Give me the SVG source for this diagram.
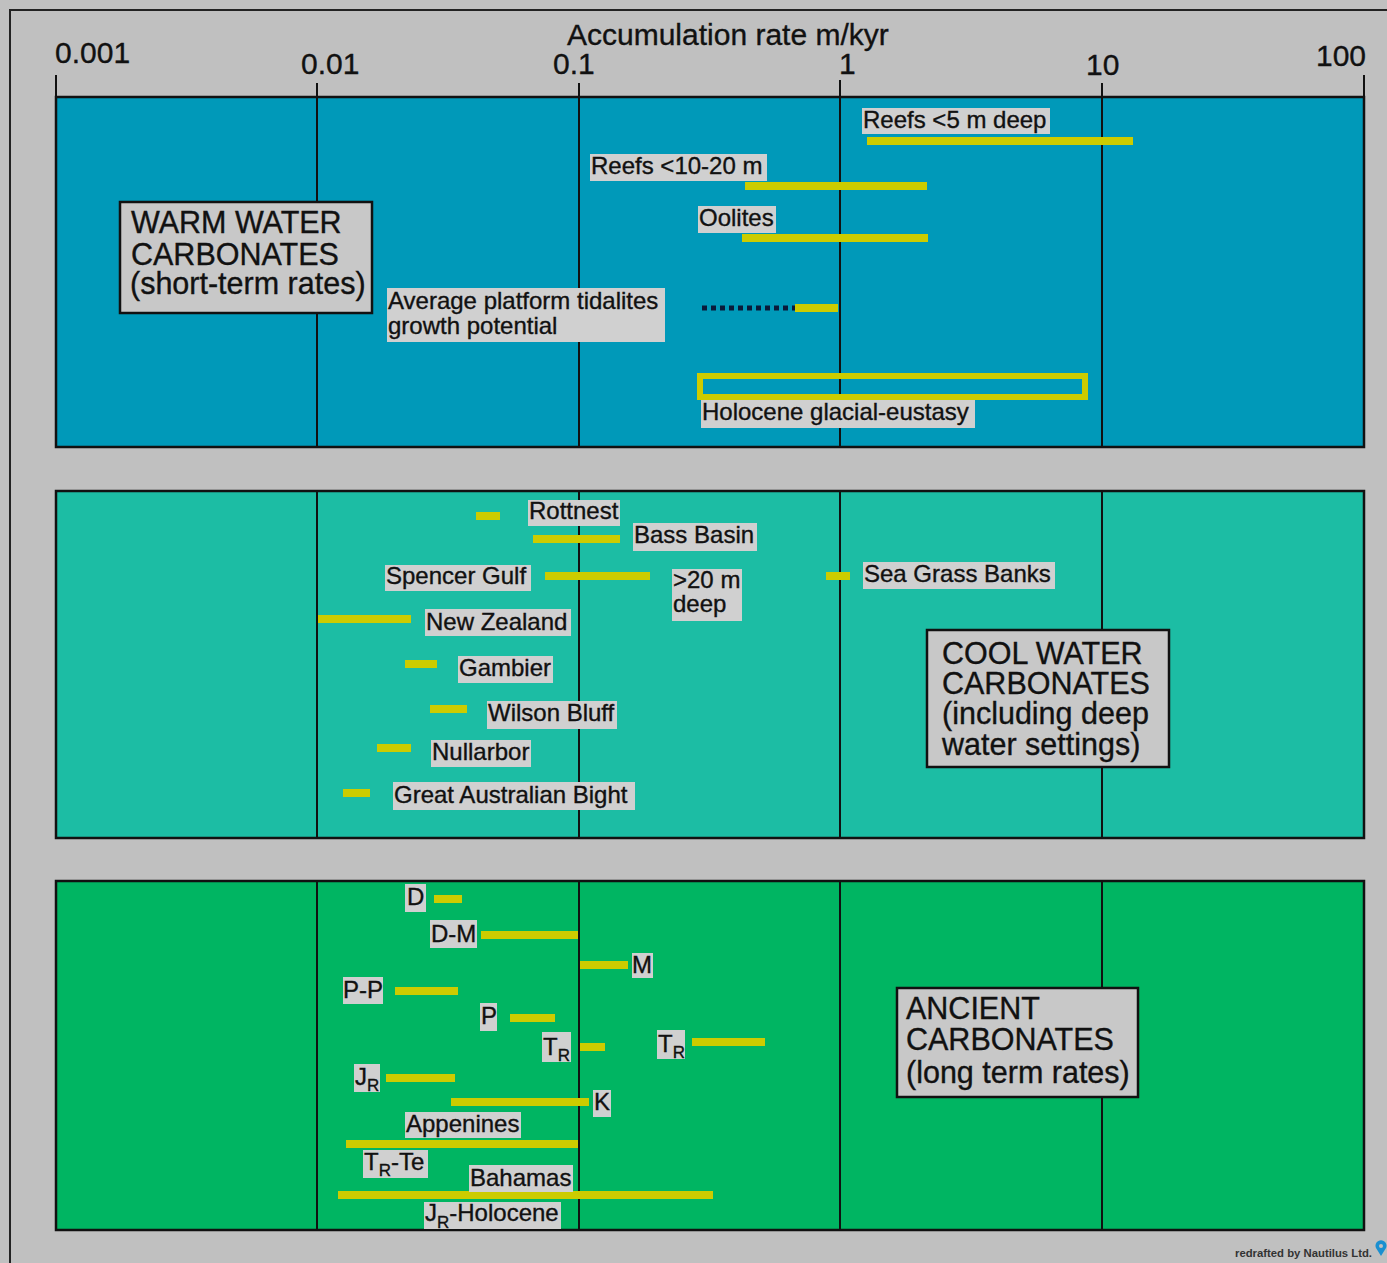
<svg xmlns="http://www.w3.org/2000/svg" width="1387" height="1263" viewBox="0 0 1387 1263">
<style>
text{font-family:"Liberation Sans",Arial,sans-serif;fill:#111;stroke:#111;stroke-width:0.35}
.ax{font-size:30px}
.big{font-size:30.5px}
.lb{font-size:24px}
.sub{font-size:17px}
.lbg{fill:#d0d0d0}
.box{fill:#c8c8c8;stroke:#111;stroke-width:2.5}
.panel{stroke:#111;stroke-width:2.5}
.grid{stroke:#111;stroke-width:2}
.bar{stroke:#cccc00;stroke-width:8;fill:none}
</style>
<rect x="0" y="0" width="1387" height="1263" fill="#c0c0c0"/>
<path d="M10 1263 V10 H1387" fill="none" stroke="#222" stroke-width="2"/>

<g id="axis">
  <text class="ax" x="567" y="45">Accumulation rate m/kyr</text>
  <text class="ax" x="55" y="63">0.001</text>
  <text class="ax" x="301" y="74">0.01</text>
  <text class="ax" x="553" y="74">0.1</text>
  <text class="ax" x="839" y="74">1</text>
  <text class="ax" x="1086" y="75">10</text>
  <text class="ax" x="1316" y="66">100</text>
  <g class="grid">
    <line x1="56" y1="75" x2="56" y2="97"/>
    <line x1="317" y1="83" x2="317" y2="97"/>
    <line x1="579" y1="83" x2="579" y2="97"/>
    <line x1="840" y1="80" x2="840" y2="97"/>
    <line x1="1102" y1="83" x2="1102" y2="97"/>
    <line x1="1364" y1="75" x2="1364" y2="97"/>
  </g>
</g>

<g id="panel-warm">
  <rect class="panel" x="56" y="97" width="1308" height="350" fill="#0099b9"/>
  <g class="grid">
    <line x1="317" y1="97" x2="317" y2="447"/>
    <line x1="579" y1="97" x2="579" y2="447"/>
    <line x1="840" y1="97" x2="840" y2="447"/>
    <line x1="1102" y1="97" x2="1102" y2="447"/>
  </g>
</g>
<g id="panel-cool">
  <rect class="panel" x="56" y="491" width="1308" height="347" fill="#1cbda4"/>
  <g class="grid">
    <line x1="317" y1="491" x2="317" y2="838"/>
    <line x1="579" y1="491" x2="579" y2="838"/>
    <line x1="840" y1="491" x2="840" y2="838"/>
    <line x1="1102" y1="491" x2="1102" y2="838"/>
  </g>
</g>
<g id="panel-ancient">
  <rect class="panel" x="56" y="881" width="1308" height="349" fill="#00b562"/>
  <g class="grid">
    <line x1="317" y1="881" x2="317" y2="1230"/>
    <line x1="579" y1="881" x2="579" y2="1230"/>
    <line x1="840" y1="881" x2="840" y2="1230"/>
    <line x1="1102" y1="881" x2="1102" y2="1230"/>
  </g>
</g>

<g id="title-warm">
  <rect class="box" x="120" y="202" width="252" height="111"/>
  <text class="big" x="131" y="233">WARM WATER</text>
  <text class="big" x="131" y="265">CARBONATES</text>
  <text class="big" x="130" y="294">(short-term rates)</text>
</g>
<g id="title-cool">
  <rect class="box" x="927" y="630" width="242" height="137"/>
  <text class="big" x="942" y="664">COOL WATER</text>
  <text class="big" x="942" y="694">CARBONATES</text>
  <text class="big" x="942" y="724">(including deep</text>
  <text class="big" x="942" y="755">water settings)</text>
</g>
<g id="title-ancient">
  <rect class="box" x="897" y="988" width="241" height="109"/>
  <text class="big" x="906" y="1019">ANCIENT</text>
  <text class="big" x="906" y="1050">CARBONATES</text>
  <text class="big" x="906" y="1083">(long term rates)</text>
</g>

<g id="warm-items">
  <g id="reefs5">
    <line class="bar" x1="867" y1="141" x2="1133" y2="141"/>
    <rect class="lbg" x="862" y="108" width="188" height="26"/>
    <text class="lb" x="863" y="128">Reefs &lt;5 m deep</text>
  </g>
  <g id="reefs1020">
    <line class="bar" x1="745" y1="186" x2="927" y2="186"/>
    <rect class="lbg" x="590" y="154" width="177" height="27"/>
    <text class="lb" x="591" y="174">Reefs &lt;10-20 m</text>
  </g>
  <g id="oolites">
    <line class="bar" x1="742" y1="238" x2="928" y2="238"/>
    <rect class="lbg" x="698" y="206" width="78" height="27"/>
    <text class="lb" x="699" y="226">Oolites</text>
  </g>
  <g id="tidalites">
    <rect class="lbg" x="387" y="288" width="278" height="54"/>
    <text class="lb" x="388" y="309">Average platform tidalites</text>
    <text class="lb" x="388" y="334">growth potential</text>
    <line x1="702" y1="308" x2="795" y2="308" stroke="#0a1a3a" stroke-width="5" stroke-dasharray="5 4"/>
    <line class="bar" x1="795" y1="308" x2="838" y2="308"/>
  </g>
  <g id="holocene">
    <rect x="700" y="376" width="385" height="21" fill="none" stroke="#cccc00" stroke-width="6"/>
    <rect class="lbg" x="701" y="400" width="274" height="28"/>
    <text class="lb" x="702" y="420">Holocene glacial-eustasy</text>
  </g>
</g>

<g id="cool-items">
  <g id="rottnest">
    <line class="bar" x1="476" y1="516" x2="500" y2="516"/>
    <rect class="lbg" x="528" y="500" width="92" height="26"/>
    <text class="lb" x="529" y="519">Rottnest</text>
  </g>
  <g id="bass">
    <line class="bar" x1="533" y1="539" x2="620" y2="539"/>
    <rect class="lbg" x="633" y="523" width="124" height="28"/>
    <text class="lb" x="634" y="543">Bass Basin</text>
  </g>
  <g id="spencer">
    <line class="bar" x1="545" y1="576" x2="650" y2="576"/>
    <rect class="lbg" x="385" y="565" width="146" height="26"/>
    <text class="lb" x="386" y="584">Spencer Gulf</text>
  </g>
  <g id="deep20">
    <rect class="lbg" x="672" y="569" width="70" height="52"/>
    <text class="lb" x="673" y="588">&gt;20 m</text>
    <text class="lb" x="673" y="612">deep</text>
  </g>
  <g id="seagrass">
    <line class="bar" x1="826" y1="576" x2="850" y2="576"/>
    <rect class="lbg" x="863" y="562" width="192" height="27"/>
    <text class="lb" x="864" y="582">Sea Grass Banks</text>
  </g>
  <g id="nz">
    <line class="bar" x1="318" y1="619" x2="411" y2="619"/>
    <rect class="lbg" x="425" y="609" width="146" height="27"/>
    <text class="lb" x="426" y="630">New Zealand</text>
  </g>
  <g id="gambier">
    <line class="bar" x1="405" y1="664" x2="437" y2="664"/>
    <rect class="lbg" x="458" y="656" width="95" height="27"/>
    <text class="lb" x="459" y="676">Gambier</text>
  </g>
  <g id="wilson">
    <line class="bar" x1="430" y1="709" x2="467" y2="709"/>
    <rect class="lbg" x="487" y="701" width="130" height="28"/>
    <text class="lb" x="488" y="721">Wilson Bluff</text>
  </g>
  <g id="nullarbor">
    <line class="bar" x1="377" y1="748" x2="411" y2="748"/>
    <rect class="lbg" x="431" y="740" width="100" height="27"/>
    <text class="lb" x="432" y="760">Nullarbor</text>
  </g>
  <g id="gab">
    <line class="bar" x1="343" y1="793" x2="370" y2="793"/>
    <rect class="lbg" x="393" y="782" width="242" height="28"/>
    <text class="lb" x="394" y="803">Great Australian Bight</text>
  </g>
</g>

<g id="ancient-items">
  <g id="d">
    <line class="bar" x1="434" y1="899" x2="462" y2="899"/>
    <rect class="lbg" x="405" y="884" width="21" height="28"/>
    <text class="lb" x="407" y="905">D</text>
  </g>
  <g id="dm">
    <line class="bar" x1="481" y1="935" x2="578" y2="935"/>
    <rect class="lbg" x="430" y="920" width="47" height="28"/>
    <text class="lb" x="431" y="942">D-M</text>
  </g>
  <g id="m">
    <line class="bar" x1="580" y1="965" x2="628" y2="965"/>
    <rect class="lbg" x="632" y="953" width="21" height="25"/>
    <text class="lb" x="632" y="973">M</text>
  </g>
  <g id="pp">
    <line class="bar" x1="395" y1="991" x2="458" y2="991"/>
    <rect class="lbg" x="343" y="977" width="40" height="27"/>
    <text class="lb" x="343" y="998">P-P</text>
  </g>
  <g id="p">
    <line class="bar" x1="510" y1="1018" x2="555" y2="1018"/>
    <rect class="lbg" x="480" y="1003" width="17" height="28"/>
    <text class="lb" x="481" y="1024">P</text>
  </g>
  <g id="tr1">
    <line class="bar" x1="580" y1="1047" x2="605" y2="1047"/>
    <rect class="lbg" x="542" y="1032" width="29" height="30"/>
    <text class="lb" x="543" y="1055">T<tspan class="sub" dy="6">R</tspan></text>
  </g>
  <g id="tr2">
    <line class="bar" x1="692" y1="1042" x2="765" y2="1042"/>
    <rect class="lbg" x="657" y="1030" width="28" height="29"/>
    <text class="lb" x="658" y="1052">T<tspan class="sub" dy="6">R</tspan></text>
  </g>
  <g id="jr">
    <line class="bar" x1="386" y1="1078" x2="455" y2="1078"/>
    <rect class="lbg" x="354" y="1064" width="26" height="28"/>
    <text class="lb" x="355" y="1085">J<tspan class="sub" dy="6">R</tspan></text>
  </g>
  <g id="k">
    <line class="bar" x1="451" y1="1102" x2="589" y2="1102"/>
    <rect class="lbg" x="593" y="1090" width="18" height="27"/>
    <text class="lb" x="594" y="1110">K</text>
  </g>
  <g id="appenines">
    <line class="bar" x1="346" y1="1144" x2="578" y2="1144"/>
    <rect class="lbg" x="405" y="1112" width="116" height="26"/>
    <text class="lb" x="406" y="1132">Appenines</text>
  </g>
  <g id="trte">
    <rect class="lbg" x="363" y="1150" width="65" height="28"/>
    <text class="lb" x="364" y="1170">T<tspan class="sub" dy="6">R</tspan><tspan dy="-6">-Te</tspan></text>
  </g>
  <g id="bahamas">
    <line class="bar" x1="338" y1="1195" x2="713" y2="1195"/>
    <rect class="lbg" x="469" y="1165" width="104" height="27"/>
    <text class="lb" x="470" y="1186">Bahamas</text>
  </g>
  <g id="jrhol">
    <rect class="lbg" x="424" y="1202" width="137" height="27"/>
    <text class="lb" x="425" y="1221">J<tspan class="sub" dy="7">R</tspan><tspan dy="-7">-Holocene</tspan></text>
  </g>
</g>

<g id="credit">
  <text x="1235" y="1257" font-size="10" font-weight="bold" textLength="137" lengthAdjust="spacingAndGlyphs" style="fill:#333;stroke:none">redrafted by Nautilus Ltd.</text>
  <path d="M1381 1256 L1376 1248 A5.5 5.5 0 1 1 1386 1248 Z" fill="#1a8fd0"/>
  <circle cx="1381" cy="1246" r="2" fill="#c0c0c0"/>
</g>
</svg>
